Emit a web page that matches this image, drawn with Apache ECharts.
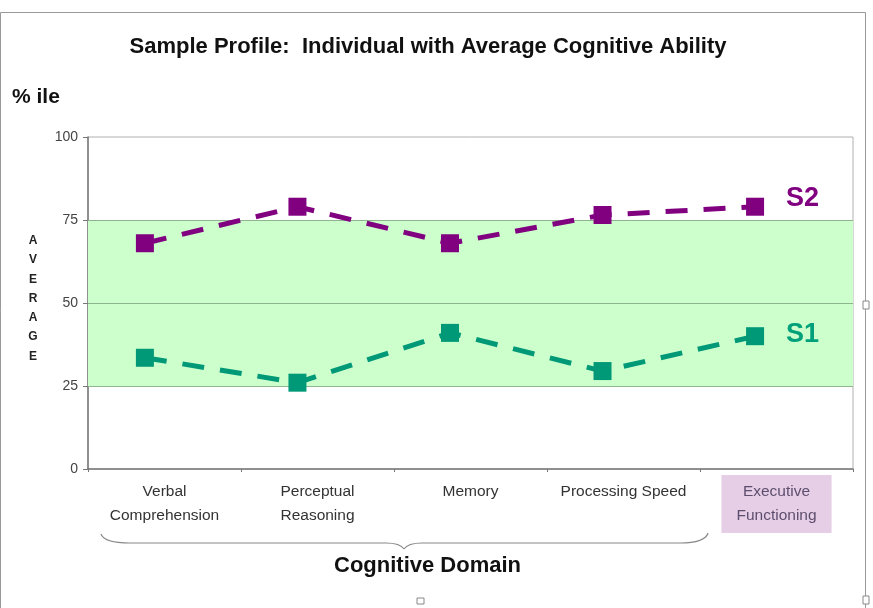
<!DOCTYPE html>
<html><head><meta charset="utf-8">
<script src="https://cdn.jsdelivr.net/npm/echarts@6/dist/echarts.min.js"></script>
<style>html,body{margin:0;padding:0;background:#fff}#c{width:873px;height:608px}</style>
</head><body><div id="c"></div>
<script>
const categories = ['Verbal\nComprehension', 'Perceptual\nReasoning', 'Memory', 'Processing Speed', 'Executive\nFunctioning'];
const s1Values = [33.5, 26, 41, 29.5, 40];
const s2Values = [68, 79, 68, 76.5, 79];
const yTicks = [0, 25, 50, 75, 100];
const bandRange = [25, 75];
const bandLines = [25, 50, 75];

const FN = "'Liberation Sans',Arial,sans-serif";
const chart = echarts.init(document.getElementById('c'));
const catData = categories.map((c, i) => i === categories.length - 1
  ? { value: c, textStyle: { backgroundColor: '#e6cfe6', color: '#5e4e6e', padding: [5, 15, 5, 15] } }
  : c);
const braceStyle = { fill: 'none', stroke: '#888', lineWidth: 1.2 };
chart.setOption({
  backgroundColor: '#fff',
  animation: false,
  title: {
    text: 'Sample Profile:  Individual with Average Cognitive Ability',
    left: 423, top: 31, textAlign: 'center',
    textStyle: { fontFamily: FN, fontSize: 22, fontWeight: 'bold', color: '#111' }
  },
  grid: { left: 88, right: 20, top: 137, bottom: 139, show: true, borderColor: '#b0b0b0', borderWidth: 1 },
  xAxis: [{
    type: 'category', data: catData, boundaryGap: true,
    axisLine: { lineStyle: { color: '#777', width: 1.5 } },
    axisTick: { show: true, length: 3, lineStyle: { color: '#777' } },
    axisLabel: { margin: 6, fontFamily: FN, fontSize: 15.5, lineHeight: 24, color: '#333', padding: [5, 11, 5, 11], interval: 0 }
  }, {
    type: 'value', min: -0.373, max: 4.642, show: false
  }],
  yAxis: {
    type: 'value', min: 0, max: 100, interval: 25,
    axisLine: { show: true, onZero: false, lineStyle: { color: '#777', width: 1.5 } },
    axisTick: { show: true, length: 5, lineStyle: { color: '#777' } },
    axisLabel: { fontFamily: FN, fontSize: 14, color: '#444', margin: 10,
      formatter: v => yTicks.includes(v) ? String(v) : '' },
    splitLine: { show: false }
  },
  graphic: [
    { type: 'text', x: 12, y: 87, style: { text: '% ile', font: "bold 21px " + FN, fill: '#111' } },
    { type: 'text', x: 33, y: 231, style: { text: 'A\nV\nE\nR\nA\nG\nE', font: "bold 12px " + FN, fill: '#222', lineHeight: 19.3, align: 'center' } },
    { type: 'text', x: 334, y: 555, style: { text: 'Cognitive Domain', font: "bold 22px " + FN, fill: '#111' } },
    { type: 'bezierCurve', shape: { x1: 101, y1: 534, x2: 130, y2: 543, cpx1: 104, cpy1: 543 }, style: braceStyle },
    { type: 'line', shape: { x1: 130, y1: 543, x2: 386, y2: 543 }, style: braceStyle },
    { type: 'bezierCurve', shape: { x1: 386, y1: 543, x2: 404, y2: 549, cpx1: 400, cpy1: 543 }, style: braceStyle },
    { type: 'bezierCurve', shape: { x1: 404, y1: 549, x2: 422, y2: 543, cpx1: 408, cpy1: 543 }, style: braceStyle },
    { type: 'line', shape: { x1: 422, y1: 543, x2: 680, y2: 543 }, style: braceStyle },
    { type: 'bezierCurve', shape: { x1: 680, y1: 543, x2: 708, y2: 533, cpx1: 705, cpy1: 543 }, style: braceStyle },
    { type: 'rect', shape: { x: 0.5, y: 12.5, width: 865, height: 600 }, style: { fill: 'none', stroke: '#999', lineWidth: 1 }, z: -1 },
    { type: 'rect', shape: { x: 863, y: 301, width: 6, height: 8 }, style: { fill: '#fff', stroke: '#888', lineWidth: 1 } },
    { type: 'rect', shape: { x: 417, y: 598, width: 7, height: 6 }, style: { fill: '#fff', stroke: '#888', lineWidth: 1 } },
    { type: 'rect', shape: { x: 863, y: 596, width: 6, height: 8 }, style: { fill: '#fff', stroke: '#888', lineWidth: 1 } }
  ],
  series: [
    {
      type: 'line', xAxisIndex: 0, data: [], silent: true,
      markArea: { silent: true, itemStyle: { color: '#ccffcc' }, data: [[{ yAxis: bandRange[0] }, { yAxis: bandRange[1] }]] },
      markLine: { silent: true, symbol: 'none', label: { show: false }, lineStyle: { color: '#8fb58f', type: 'solid', width: 1.2 },
        data: bandLines.map(v => ({ yAxis: v })) }
    },
    {
      name: 'S1', type: 'line', xAxisIndex: 1, data: s1Values.map((v, i) => [i, v]),
      symbol: 'rect', symbolSize: 18, z: 5,
      lineStyle: { color: '#009977', width: 5, type: [22, 16] },
      itemStyle: { color: '#009977' },
      endLabel: { show: true, formatter: 'S1', distance: 31, offset: [0, -2], fontFamily: FN, fontSize: 27, fontWeight: 'bold', color: '#00a07a' }
    },
    {
      name: 'S2', type: 'line', xAxisIndex: 1, data: s2Values.map((v, i) => [i, v]),
      symbol: 'rect', symbolSize: 18, z: 5,
      lineStyle: { color: '#800080', width: 5, type: [22, 16] },
      itemStyle: { color: '#800080' },
      endLabel: { show: true, formatter: 'S2', distance: 31, offset: [0, -8], fontFamily: FN, fontSize: 27, fontWeight: 'bold', color: '#800080' }
    }
  ]
});
</script></body></html>
